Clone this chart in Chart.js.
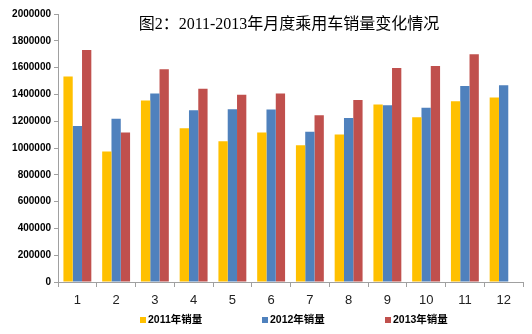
<!DOCTYPE html>
<html>
<head>
<meta charset="utf-8">
<script src="https://cdn.jsdelivr.net/npm/chart.js@4/dist/chart.umd.min.js"></script>
<style>
  html, body { margin: 0; padding: 0; background: #fff; }
  #wrap { width: 532px; height: 334px; position: relative; }
</style>
</head>
<body>
<div id="wrap"><canvas id="c" width="532" height="334"></canvas></div>
<script>
const titleText = "图2：2011-2013年月度乘用车销量变化情况";
const months = ["1","2","3","4","5","6","7","8","9","10","11","12"];
const seriesNames = ["2011年销量", "2012年销量", "2013年销量"];
const sales2011 = [1533000, 973000, 1354000, 1147000, 1050000, 1115000, 1020000, 1100000, 1324000, 1229000, 1349000, 1376000];
const sales2012 = [1164000, 1219000, 1406000, 1281000, 1289000, 1287000, 1122000, 1224000, 1319000, 1301000, 1463000, 1468000];
const sales2013 = [1731000, 1115000, 1587000, 1443000, 1398000, 1406000, 1244000, 1358000, 1597000, 1612000, 1699000, null];
const colors = ["#FFC000", "#4F81BD", "#C0504D"];

const titlePlugin = {
  id: 'customTitle',
  afterDraw(chart) {
    const ctx = chart.ctx;
    ctx.save();
    ctx.font = '16px "Liberation Serif", "Noto Sans CJK SC", serif';
    ctx.fillStyle = '#000';
    ctx.textAlign = 'center';
    ctx.textBaseline = 'middle';
    ctx.fillText(titleText, 289, 25);
    ctx.restore();
  }
};

const legendPlugin = {
  id: 'customLegend',
  afterDraw(chart) {
    const ctx = chart.ctx;
    const xs = [140, 262, 385];
    ctx.save();
    ctx.font = 'bold 10.5px "Liberation Sans", "Noto Sans CJK SC", sans-serif';
    ctx.textBaseline = 'middle';
    ctx.textAlign = 'left';
    chart.data.datasets.forEach((ds, i) => {
      ctx.fillStyle = ds.backgroundColor;
      ctx.fillRect(xs[i], 317, 6, 6);
      ctx.fillStyle = '#000';
      ctx.fillText(ds.label, xs[i] + 8, 320);
    });
    ctx.restore();
  }
};

new Chart(document.getElementById('c'), {
  type: 'bar',
  data: {
    labels: months,
    datasets: [
      { label: seriesNames[0], data: sales2011, backgroundColor: colors[0] },
      { label: seriesNames[1], data: sales2012, backgroundColor: colors[1] },
      { label: seriesNames[2], data: sales2013, backgroundColor: colors[2] }
    ]
  },
  options: {
    responsive: false,
    animation: false,
    layout: { padding: { top: 14, right: 9, left: 0, bottom: 28 } },
    datasets: { bar: { barPercentage: 1.0, categoryPercentage: 0.72 } },
    plugins: {
      legend: { display: false },
      tooltip: { enabled: false },
      title: { display: false }
    },
    scales: {
      x: {
        grid: { offset: true, drawOnChartArea: false, color: '#A0A0A0', tickLength: 5, tickColor: '#A0A0A0' },
        border: { color: '#A0A0A0' },
        ticks: {
          color: '#222',
          padding: 6,
          font: { family: '"Liberation Sans", Arial, sans-serif', size: 13 }
        },
        afterFit(scale) { scale.height = 24; }
      },
      y: {
        min: 0,
        max: 2000000,
        grid: { drawOnChartArea: false, tickLength: 4, tickColor: '#A0A0A0' },
        border: { color: '#A0A0A0' },
        ticks: {
          stepSize: 200000,
          color: '#000',
          padding: 3,
          font: { family: '"Liberation Sans", Arial, sans-serif', size: 10, weight: 'bold' },
          callback: (v) => String(v)
        },
        afterFit(scale) { scale.width = 58; }
      }
    }
  },
  plugins: [titlePlugin, legendPlugin]
});
</script>
</body>
</html>
